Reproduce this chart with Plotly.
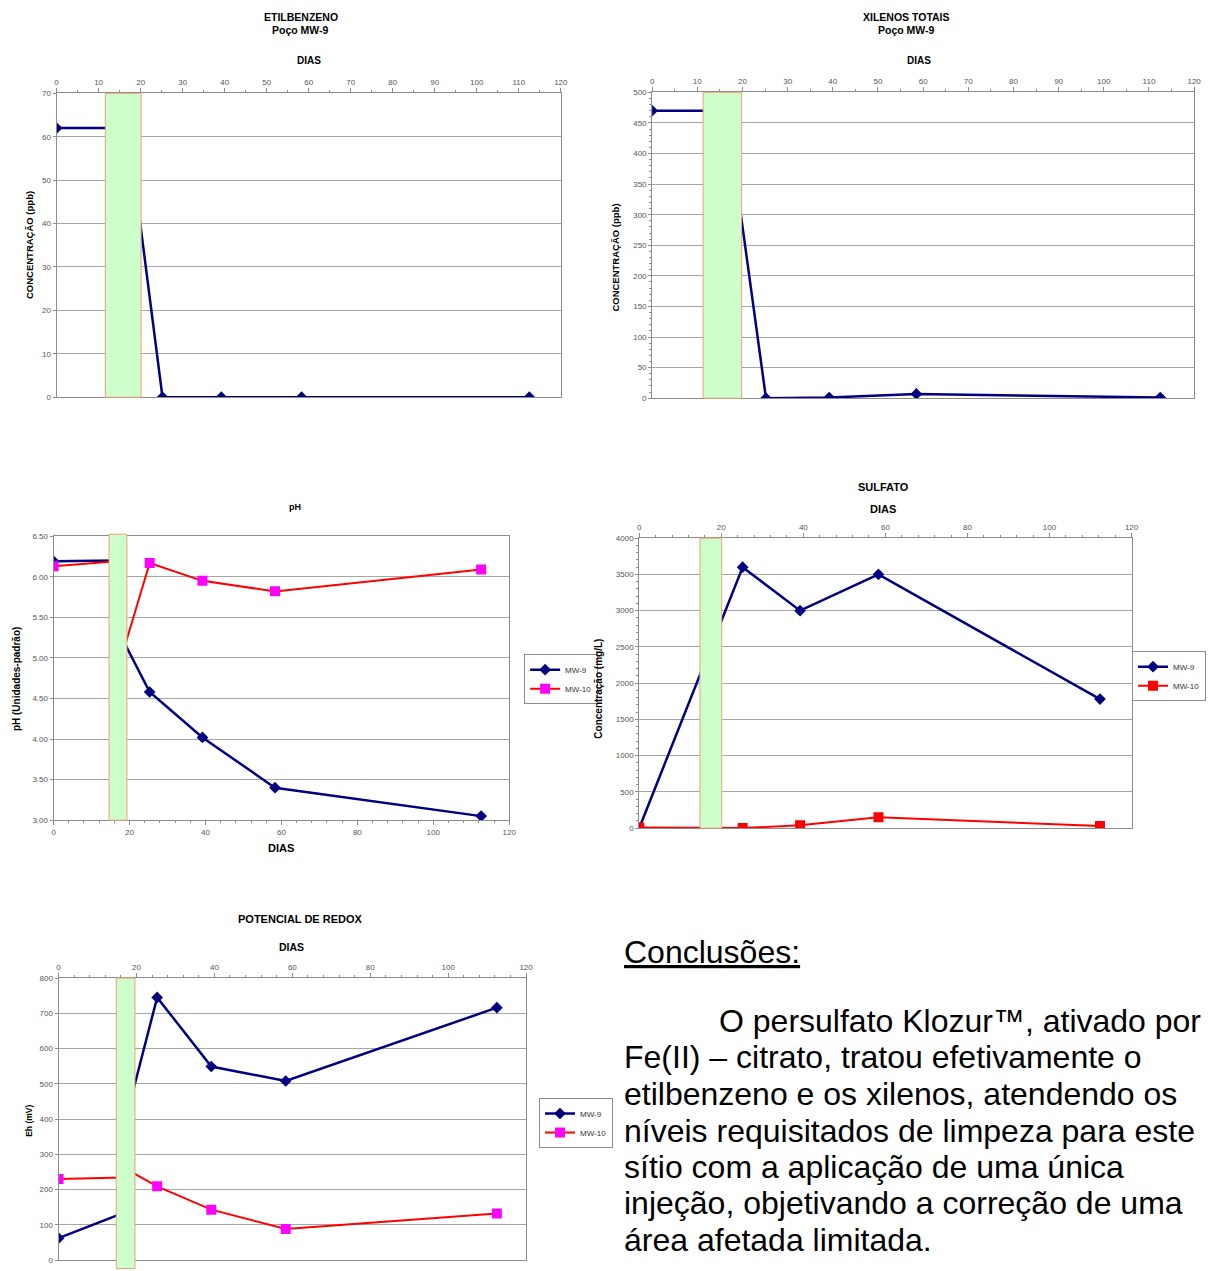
import plotly.graph_objects as go

W, H = 1216, 1271
FONT = "Liberation Sans, Arial, sans-serif"

# ---------------- data ----------------
etil_days = [0, 17, 25.2, 39.2, 58.3, 112.5]
etil_mw9 = [62, 62, 0, 0, 0, 0]

xil_days = [0, 16.5, 25.2, 39.2, 58.5, 112.5]
xil_mw9 = [470, 470, 0, 1, 7, 1]

ph_days = [0, 16.5, 17.5, 25.3, 39.2, 58.3, 112.6]
ph_mw9 = [6.19, 6.20, 5.29, 4.58, 4.02, 3.40, 3.05]
ph_mw10 = [6.13, 6.19, 4.95, 6.17, 5.95, 5.82, 6.09]

sulf_days = [0, 25.2, 39.2, 58.3, 112.3]
sulf_mw9 = [0, 3600, 3000, 3500, 1780]
sulf_mw10 = [10, 0, 40, 150, 30]

redox_days = [0, 16.5, 17.5, 25.3, 39.2, 58.3, 112.5]
redox_mw9 = [62, 133, 410, 745, 549, 508, 716]
redox_mw10 = [230, 234, 257, 209, 143, 88, 132]

# injection period (days) drawn as a green band on each chart
etil_band = [11.6, 20.1]
xil_band = [11.3, 19.8]
ph_band = [14.6, 19.3]
sulf_band = [14.8, 20.1]
redox_band = [14.8, 19.6]

series_names = ["MW-9", "MW-10"]

conclusion_title = "Conclusões:"
conclusion_lines = [
    "O persulfato Klozur™, ativado por",
    "Fe(II) – citrato, tratou efetivamente o",
    "etilbenzeno e os xilenos, atendendo os",
    "níveis requisitados de limpeza para este",
    "sítio com a aplicação de uma única",
    "injeção, objetivando a correção de uma",
    "área afetada limitada.",
]

# ---------------- helpers ----------------
def dx(a, b):
    return [a / W, b / W]

def dy(top, bottom):
    return [max(0, 1 - bottom / H), min(1, 1 - top / H)]

NAVY = "#000080"
RED = "#ff0000"
MAG = "#ff00ff"
GRID = "#a6a6a6"
AXC = "#8c8c8c"
TICKF = dict(family=FONT, size=8, color="#555555")

fig = go.Figure()

def mw9(x, y, xa, ya, legend=None, show=False):
    fig.add_trace(go.Scatter(
        x=x, y=y, xaxis=xa, yaxis=ya, mode="lines+markers", name=series_names[0],
        line=dict(color=NAVY, width=2.5),
        marker=dict(symbol="diamond", size=9, color=NAVY),
        showlegend=show, legend=legend))

def mw10(x, y, xa, ya, legend, mcolor):
    fig.add_trace(go.Scatter(
        x=x, y=y, xaxis=xa, yaxis=ya, mode="lines+markers", name=series_names[1],
        line=dict(color=RED, width=2),
        marker=dict(symbol="square", size=10, color=mcolor),
        showlegend=True, legend=legend))

mw9(etil_days, etil_mw9, "x", "y")
mw9(xil_days, xil_mw9, "x2", "y2")
mw9(ph_days, ph_mw9, "x3", "y3", "legend", True)
mw10(ph_days, ph_mw10, "x3", "y3", "legend", MAG)
mw9(sulf_days, sulf_mw9, "x4", "y4", "legend2", True)
mw10(sulf_days, sulf_mw10, "x4", "y4", "legend2", RED)
mw9(redox_days, redox_mw9, "x5", "y5", "legend3", True)
mw10(redox_days, redox_mw10, "x5", "y5", "legend3", MAG)

def xax(domain, anchor, side, dtick, minor):
    return dict(domain=domain, anchor=anchor, side=side, range=[0, 120],
                dtick=dtick, tick0=0, showgrid=False, zeroline=False,
                showline=True, linecolor=AXC, linewidth=1, mirror=True,
                ticks="outside", ticklen=4, tickcolor=AXC, tickfont=TICKF,
                minor=dict(dtick=minor, ticks="outside", ticklen=2, tickcolor=AXC),
                fixedrange=True)

def yax(domain, anchor, rng, dtick, fmt=None, minor=None):
    d = dict(domain=domain, anchor=anchor, range=rng, dtick=dtick, tick0=0,
             showgrid=True, gridcolor=GRID, gridwidth=1, zeroline=False,
             showline=True, linecolor=AXC, linewidth=1, mirror=True,
             ticks="outside", ticklen=3, tickcolor=AXC, tickfont=TICKF,
             fixedrange=True)
    if fmt:
        d["tickformat"] = fmt
    if minor:
        d["minor"] = dict(dtick=minor, ticks="outside", ticklen=2, tickcolor=AXC, showgrid=False)
    return d

fig.update_layout(
    xaxis=xax(dx(55, 563), "y", "top", 10, 5),
    yaxis=yax(dy(90, 396), "x", [0, 70], 10),
    xaxis2=xax(dx(655, 1201), "y2", "top", 10, 5),
    yaxis2=yax(dy(89, 397), "x2", [0, 500], 50, minor=10),
    xaxis3=xax(dx(52, 511), "y3", "bottom", 20, 4),
    yaxis3=yax(dy(536, 822), "x3", [3, 6.5], 0.5, fmt=".2f"),
    xaxis4=xax(dx(642, 1138), "y4", "top", 20, 4),
    yaxis4=yax(dy(538, 830), "x4", [0, 4000], 500, minor=100),
    xaxis5=xax(dx(57, 528), "y5", "top", 20, 4),
    yaxis5=yax(dy(981, 1265), "x5", [0, 800], 100),
)

# injection bands
bands = [("x", "y", etil_band, 0.0, 1.0), ("x2", "y2", xil_band, 0.0, 1.0),
         ("x3", "y3", ph_band, 0.0, 1.007), ("x4", "y4", sulf_band, 0.0, 1.0),
         ("x5", "y5", redox_band, -0.03, 1.0)]
shapes = []
for xa, ya, b, bot, top in bands:
    shapes.append(dict(type="rect", xref=xa, yref=ya + " domain", x0=b[0], x1=b[1],
                       y0=bot, y1=top, layer="above", fillcolor="#ccffcc",
                       line=dict(color="#f0a078", width=1)))

ann = []
def txt(x, y, s, size=11.5, bold=True, angle=0, anchor="center", color="black"):
    ann.append(dict(x=x / W, y=1 - y / H, xref="paper", yref="paper", text=s,
                    showarrow=False, xanchor=anchor, yanchor="middle",
                    textangle=angle,
                    font=dict(family=FONT, size=size, color=color,
                              weight="bold" if bold else "normal")))

txt(301, 13, "ETILBENZENO", 10.5)
txt(301, 26, "Poço MW-9", 10.5)
txt(309, 57, "DIAS", 10)
txt(27, 243, "CONCENTRAÇÃO (ppb)", 9.5, angle=-90)

txt(911, 13, "XILENOS TOTAIS", 10.5)
txt(911, 26, "Poço MW-9", 10.5)
txt(924, 57, "DIAS", 10)
txt(618, 255, "CONCENTRAÇÃO (ppb)", 9.5, angle=-90)

txt(295, 507, "pH", 9)
txt(281, 850, "DIAS", 11)
txt(14, 680, "pH (Unidades-padrão)", 10, angle=-90)

txt(888, 486, "SULFATO", 11)
txt(888, 509, "DIAS", 11)
txt(601, 690, "Concentração (mg/L)", 10, angle=-90)

txt(301, 922, "POTENCIAL DE REDOX", 11)
txt(292, 950, "DIAS", 10.5)
txt(27, 1125, "Eh (mV)", 8.5, angle=-90)

txt(625, 955, "<u>" + conclusion_title + "</u>", 32, bold=False, anchor="left")
line_y = [1024, 1061, 1098, 1135, 1171, 1208, 1245]
for i, (s, yy) in enumerate(zip(conclusion_lines, line_y)):
    txt(720 if i == 0 else 625, yy, s, 32, bold=False, anchor="left")

leg = dict(bgcolor="white", bordercolor="#8c8c8c", borderwidth=1,
           font=dict(family=FONT, size=8, color="#333333"), itemwidth=30,
           tracegroupgap=0, yanchor="middle")
fig.update_layout(
    legend=dict(leg, x=526 / W, xanchor="left", y=1 - 680 / H),
    legend2=dict(leg, x=1213 / W, xanchor="right", y=1 - 677 / H),
    legend3=dict(leg, x=541 / W, xanchor="left", y=1 - 1127 / H),
    shapes=shapes, annotations=ann,
    width=W, height=H, margin=dict(l=0, r=0, t=0, b=0),
    paper_bgcolor="white", plot_bgcolor="white",
    font=dict(family=FONT),
)

fig.write_html("out.html", config={"displayModeBar": False},
               post_script="document.body.style.margin='0';document.body.style.overflow='hidden';")
